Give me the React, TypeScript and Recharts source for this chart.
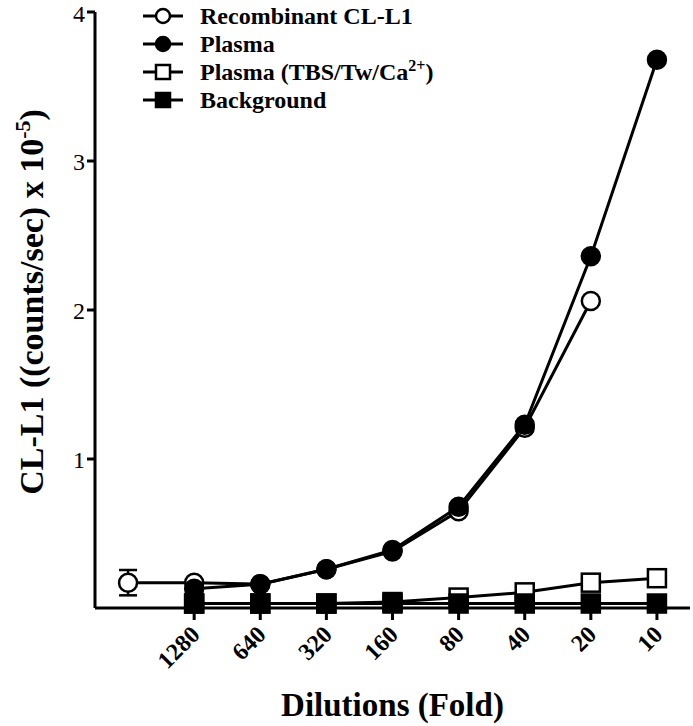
import React from 'react';
import { LineChart, Line, XAxis, YAxis, ErrorBar } from 'recharts';

// dilution index 0 has no tick label (first recombinant point)
const dilutionLabels = ['', '1280', '640', '320', '160', '80', '40', '20', '10'];
const recombinant = [0.17, 0.17, 0.16, 0.26, 0.38, 0.65, 1.21, 2.06, null];
const recombinantErr = [0.085, null, null, null, null, null, null, null, null];
const plasma = [null, 0.13, 0.16, 0.26, 0.39, 0.68, 1.23, 2.36, 3.68];
const plasmaTbs = [null, 0.03, 0.03, 0.03, 0.04, 0.07, 0.105, 0.17, 0.2];
const background = [null, 0.03, 0.03, 0.03, 0.03, 0.03, 0.03, 0.03, 0.03];
const yTicks = [1, 2, 3, 4];

const data = dilutionLabels.map((label, i) => ({
  idx: i,
  label,
  recombinant: recombinant[i],
  recombinantErr: recombinantErr[i],
  plasma: plasma[i],
  plasmaTbs: plasmaTbs[i],
  background: background[i],
}));

const FONT = 'Liberation Serif';

type Shape = 'circle' | 'square';

function makeDot(shape: Shape, filled: boolean, size = 9) {
  return (props: any) => {
    const { cx, cy, index, value } = props;
    if (value == null || cx == null || cy == null) return <g key={`d-${index}`} />;
    const fill = filled ? '#000' : '#fff';
    if (shape === 'circle') {
      return <circle key={`d-${index}`} cx={cx} cy={cy} r={size} fill={fill} stroke="#000" strokeWidth={2.5} />;
    }
    return (
      <rect key={`d-${index}`} x={cx - size} y={cy - size} width={size * 2} height={size * 2} fill={fill} stroke="#000" strokeWidth={2.5} />
    );
  };
}

const legendItems: { name: React.ReactNode; shape: Shape; filled: boolean }[] = [
  { name: 'Recombinant CL-L1', shape: 'circle', filled: false },
  { name: 'Plasma', shape: 'circle', filled: true },
  { name: <>Plasma (TBS/Tw/Ca<sup style={{ fontSize: 16, lineHeight: 0 }}>2+</sup>)</>, shape: 'square', filled: false },
  { name: 'Background', shape: 'square', filled: true },
];

function ChartLegend() {
  return (
    <div style={{ position: 'absolute', left: 140, top: 2, fontFamily: FONT, fontWeight: 'bold', fontSize: 24, lineHeight: '28px' }}>
      {legendItems.map((it, i) => (
        <div key={i} style={{ display: 'flex', alignItems: 'center', height: 28 }}>
          <svg width={48} height={28}>
            <line x1={3} y1={14} x2={43} y2={14} stroke="#000" strokeWidth={3} />
            {it.shape === 'circle' ? (
              <circle cx={23} cy={14} r={7} fill={it.filled ? '#000' : '#fff'} stroke="#000" strokeWidth={2.5} />
            ) : (
              <rect x={16} y={7} width={14} height={14} fill={it.filled ? '#000' : '#fff'} stroke="#000" strokeWidth={2.5} />
            )}
          </svg>
          <span style={{ marginLeft: 12 }}>{it.name}</span>
        </div>
      ))}
    </div>
  );
}

function XTick(props: any) {
  const { x, y, payload } = props;
  const label = dilutionLabels[payload.value] ?? '';
  return (
    <text
      x={x + 7}
      y={y + 14}
      transform={`rotate(-45 ${x + 7} ${y + 14})`}
      textAnchor="end"
      fontFamily={FONT}
      fontWeight="bold"
      fontSize={24}
      fill="#000"
    >
      {label}
    </text>
  );
}

function YLabel() {
  const x = 43;
  const y = 302;
  return (
    <text
      x={x}
      y={y}
      transform={`rotate(-90 ${x} ${y})`}
      textAnchor="middle"
      fontFamily={FONT}
      fontWeight="bold"
      fontSize={34}
      fill="#000"
    >
      CL-L1 ((counts/sec) x 10
      <tspan dy={-13} fontSize={22}>-5</tspan>
      <tspan dy={13}>)</tspan>
    </text>
  );
}

export default function App() {
  return (
    <div style={{ position: 'absolute', left: 0, top: 0, width: 693, height: 726, background: '#fff' }}>
      <LineChart width={693} height={726} data={data} margin={{ top: 12, right: 3, bottom: 40, left: 35 }}>
        <XAxis
          type="number"
          dataKey="idx"
          domain={[-0.5, 8.5]}
          ticks={[1, 2, 3, 4, 5, 6, 7, 8]}
          interval={0}
          height={78}
          tick={<XTick />}
          tickSize={12}
          axisLine={{ stroke: '#000', strokeWidth: 3 }}
          tickLine={{ stroke: '#000', strokeWidth: 3 }}
          label={{
            value: 'Dilutions (Fold)',
            position: 'insideBottom',
            offset: -30,
            style: { fontFamily: FONT, fontWeight: 'bold', fontSize: 33, fill: '#000' },
          }}
        />
        <YAxis
          type="number"
          domain={[0, 4]}
          ticks={yTicks}
          width={60}
          tickSize={8}
          axisLine={{ stroke: '#000', strokeWidth: 3 }}
          tickLine={{ stroke: '#000', strokeWidth: 3 }}
          tick={{ fontFamily: FONT, fontSize: 24, fill: '#000' }}
          label={<YLabel />}
        />
        <Line
          dataKey="recombinant"
          stroke="#000"
          strokeWidth={3}
          dot={makeDot('circle', false)}
          isAnimationActive={false}
        >
          <ErrorBar dataKey="recombinantErr" direction="y" width={9} stroke="#000" strokeWidth={2.5} />
        </Line>
        <Line dataKey="plasma" stroke="#000" strokeWidth={3} dot={makeDot('circle', true)} isAnimationActive={false} />
        <Line dataKey="plasmaTbs" stroke="#000" strokeWidth={3} dot={makeDot('square', false)} isAnimationActive={false} />
        <Line dataKey="background" stroke="#000" strokeWidth={3} dot={makeDot('square', true)} isAnimationActive={false} />
      </LineChart>
      <ChartLegend />
    </div>
  );
}
